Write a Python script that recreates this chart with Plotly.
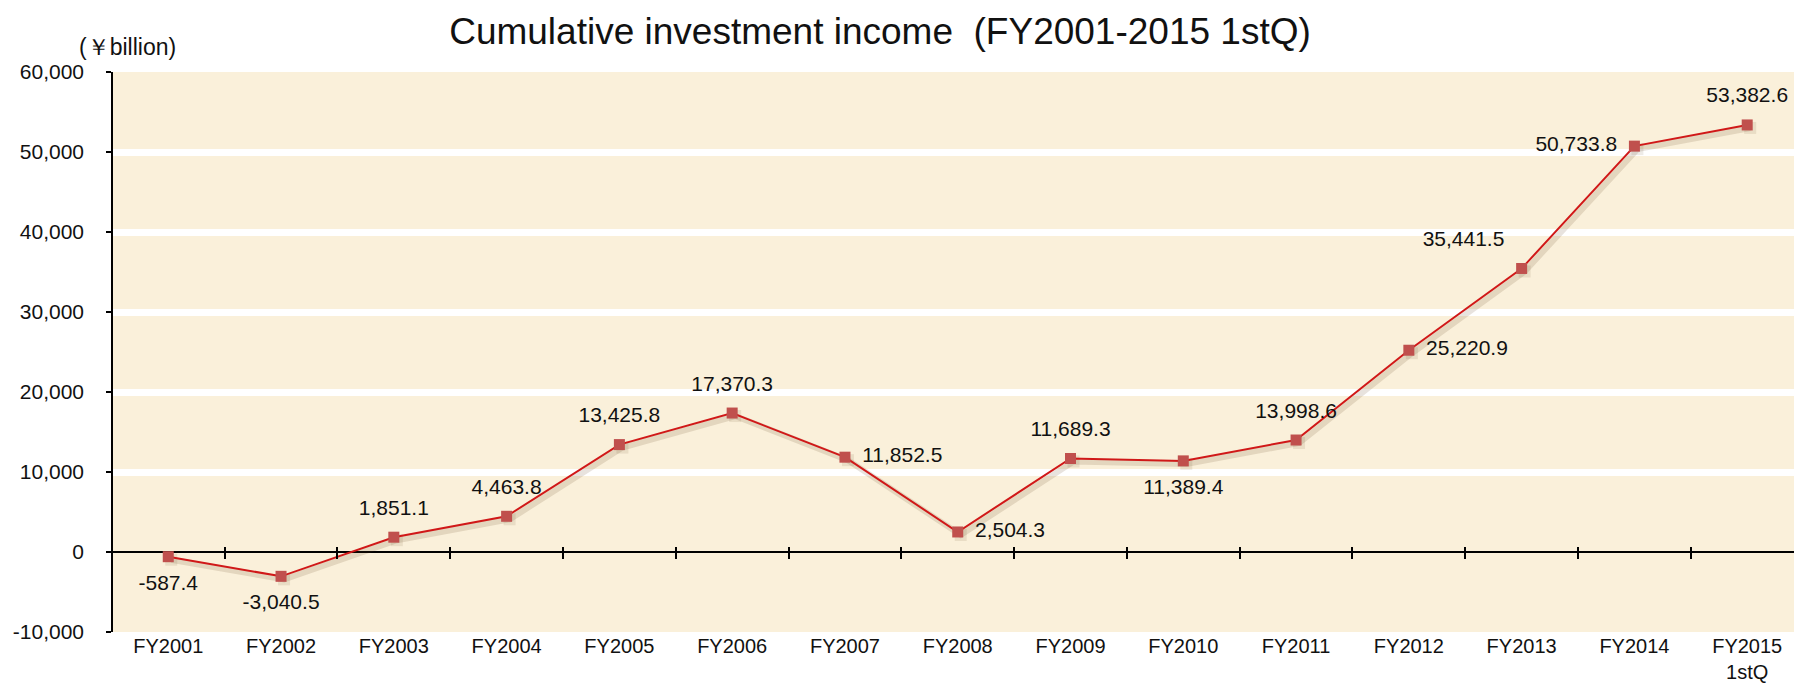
import plotly.graph_objects as go

# ---- data ----
categories = ["FY2001", "FY2002", "FY2003", "FY2004", "FY2005", "FY2006", "FY2007",
              "FY2008", "FY2009", "FY2010", "FY2011", "FY2012", "FY2013", "FY2014",
              "FY2015<br>1stQ"]
values = [-587.4, -3040.5, 1851.1, 4463.8, 13425.8, 17370.3, 11852.5,
          2504.3, 11689.3, 11389.4, 13998.6, 25220.9, 35441.5, 50733.8, 53382.6]
label_positions = ["bottom center", "bottom center", "top center", "top center",
                   "top center", "top center", "middle right", "middle right",
                   "top center", "bottom center", "top center", "middle right",
                   "top left", "middle left", "top center"]
y_tick_values = [-10000, 0, 10000, 20000, 30000, 40000, 50000, 60000]
y_tick_labels = ["-10,000", "0", "10,000", "20,000", "30,000", "40,000", "50,000", "60,000"]
title_text = "Cumulative investment income  (FY2001-2015 1stQ)"
unit_text = "(￥billion)"

labels = [f"{v:,.1f}" for v in values]

FONT = "Arial, 'Liberation Sans', sans-serif"
W, H = 1794, 686
ML, MR, MT, MB = 113, 0, 72, 54
plot_w = W - ML - MR
plot_h = H - MT - MB
y_range = [y_tick_values[0], y_tick_values[-1]]
x_range = [-0.49, 14.415]

# shadow offset (pixels) converted into axis units
sx, sy = 3, 3
dx = sx * (x_range[1] - x_range[0]) / plot_w
dy = sy * (y_range[1] - y_range[0]) / plot_h

fig = go.Figure()

# invisible trace to populate main category axis
fig.add_trace(go.Scatter(x=categories, y=values, mode="lines",
                         line=dict(color="rgba(0,0,0,0)"), hoverinfo="skip",
                         showlegend=False))
# soft shadow
fig.add_trace(go.Scatter(x=categories, y=values, mode="lines+markers",
                         xaxis="x2", yaxis="y2",
                         line=dict(color="rgba(90,60,20,0.14)", width=6),
                         marker=dict(symbol="square", size=12, color="rgba(90,60,20,0.10)"),
                         hoverinfo="skip", showlegend=False))
# main line
fig.add_trace(go.Scatter(x=categories, y=values, mode="lines+markers",
                         xaxis="x3", yaxis="y",
                         line=dict(color="#D01818", width=2),
                         marker=dict(symbol="square", size=11, color="#C0504D",
                                     line=dict(width=0)),
                         showlegend=False))
# data labels (invisible larger markers give the label offset)
fig.add_trace(go.Scatter(x=categories, y=values, mode="markers+text",
                         xaxis="x3", yaxis="y",
                         marker=dict(size=26, color="rgba(0,0,0,0)"),
                         text=labels, textposition=label_positions,
                         textfont=dict(family=FONT, size=21, color="#111111"),
                         hoverinfo="skip", cliponaxis=False, showlegend=False))

zero_pos = (0 - y_range[0]) / (y_range[1] - y_range[0])

fig.update_layout(
    width=W, height=H,
    margin=dict(l=ML, r=MR, t=MT, b=MB, pad=0),
    paper_bgcolor="white",
    plot_bgcolor="#FAF0DA",
    font=dict(family=FONT, size=21, color="#111111"),
    title=dict(text=title_text, x=880 / W, xanchor="center", y=1 - 31 / H, yanchor="middle",
               font=dict(family=FONT, size=37, color="#111111")),
    xaxis=dict(type="category", range=x_range, showgrid=False, showline=False,
               zeroline=False, ticks="",
               tickfont=dict(family=FONT, size=20, color="#111111"), automargin=False,
               fixedrange=True),
    xaxis2=dict(type="category", overlaying="x", anchor="y2",
                range=[x_range[0] - dx, x_range[1] - dx], visible=False),
    xaxis3=dict(type="category", overlaying="x", anchor="free",
                position=zero_pos + 6 / plot_h, range=x_range,
                showgrid=False, showline=False, zeroline=False,
                ticks="outside", ticklen=12, tickwidth=1.5, tickcolor="#000000",
                tickson="boundaries", showticklabels=False),
    yaxis=dict(range=y_range, tickvals=y_tick_values, ticktext=y_tick_labels,
               showgrid=True, gridcolor="white", gridwidth=7,
               zeroline=True, zerolinecolor="#000000", zerolinewidth=1.5,
               showline=True, linecolor="#000000", linewidth=1.5,
               ticks="outside", ticklen=5, tickwidth=1.5, tickcolor="#000000",
               ticklabelstandoff=18,
               tickfont=dict(family=FONT, size=21, color="#111111"), automargin=False),
    yaxis2=dict(overlaying="y", range=[y_range[0] + dy, y_range[1] + dy], visible=False),
    annotations=[dict(text=unit_text, xref="paper", yref="paper",
                      x=(127 - ML) / plot_w, y=1 + (MT - 47) / plot_h,
                      xanchor="center", yanchor="middle", showarrow=False,
                      font=dict(family=FONT, size=23, color="#111111"))],
)

fig.write_html("out.html", config={"displayModeBar": False},
               post_script="document.body.style.margin='0';")
